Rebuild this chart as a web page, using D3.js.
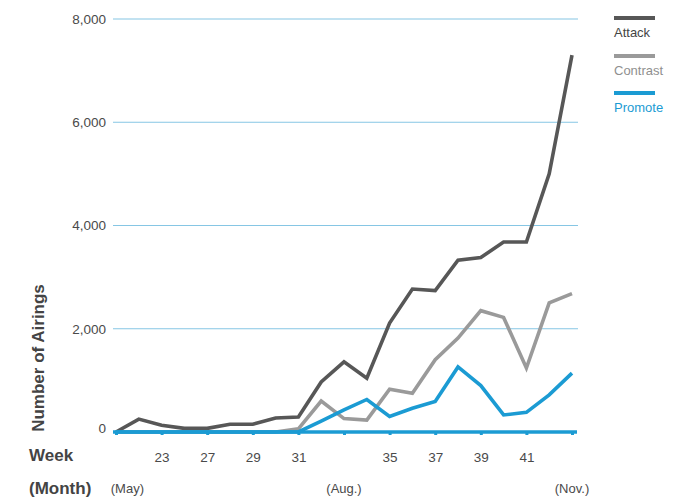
<!DOCTYPE html>
<html>
<head>
<meta charset="utf-8">
<script src="https://cdn.jsdelivr.net/npm/d3@7"></script>
<style>
  html, body { margin: 0; padding: 0; background: #fff; }
  svg { display: block; font-family: "Liberation Sans", Arial, sans-serif; }
</style>
</head>
<body>
<svg id="chart" width="697" height="497"></svg>
<script>
// ---- data ----
const weekIndex = d3.range(21);
const attack   = [0, 250, 130, 70, 70, 150, 150, 270, 290, 970, 1360, 1040, 2110, 2770, 2740, 3330, 3380, 3680, 3680, 5000, 7300];
const contrast = [0, 0, 0, 0, 0, 0, 0, 0, 60, 600, 260, 230, 830, 750, 1400, 1820, 2350, 2220, 1240, 2500, 2680];
const promote  = [0, 0, 0, 0, 0, 0, 0, 0, 0, 210, 430, 630, 300, 460, 590, 1260, 900, 330, 380, 720, 1140];
const tickIdx    = [0, 2, 4, 6, 8, 10, 12, 14, 16, 18, 20];
const tickLabels = ["", "23", "27", "29", "31", "", "35", "37", "39", "41", ""];
const monthLabels = ["(May)", "(Aug.)", "(Nov.)"];
const monthIdx    = [0.5, 10, 20];
const yTicks = [0, 2000, 4000, 6000, 8000];
const seriesNames = ["Attack", "Contrast", "Promote"];

// ---- layout ----
const svg = d3.select("#chart");
const colors = { Attack: "#575757", Contrast: "#9a9a9a", Promote: "#1b9bd3" };
const textColors = { Attack: "#444444", Contrast: "#8f8f8f", Promote: "#1b9bd3" };

const x = d3.scaleLinear().domain([0, 20]).range([116, 572]);
const y = d3.scaleLinear().domain([0, 8000]).range([432, 19]);

// gridlines
const grid = svg.append("g");
grid.selectAll("line").data(yTicks.filter(d => d > 0)).join("line")
  .attr("x1", 113).attr("x2", 578)
  .attr("y1", d => y(d)).attr("y2", d => y(d))
  .attr("stroke", "#86c6e4").attr("stroke-width", 1.2);

// y axis labels
const yAxis = d3.axisLeft(y).tickValues(yTicks).tickFormat(d3.format(",")).tickSize(0).tickPadding(0);
const yg = svg.append("g").attr("transform", "translate(106,0)").call(yAxis);
yg.select(".domain").remove();
yg.selectAll("text").attr("font-size", 13.5).attr("fill", "#4a4a4a")
  .attr("font-family", "Liberation Sans, Arial, sans-serif")
  .attr("dy", "0.32em");
yg.selectAll(".tick").filter(d => d === 0).select("text").attr("dy", "0.05em");

// axis title
svg.append("text")
  .attr("transform", "translate(44,358) rotate(-90)")
  .attr("text-anchor", "middle")
  .attr("font-size", 17).attr("font-weight", "bold").attr("fill", "#444")
  .text("Number of Airings");

// lines
const lineGen = d3.line().x((d, i) => x(i)).y(d => y(d));
const seriesData = { Attack: attack, Contrast: contrast, Promote: promote };
["Contrast", "Attack", "Promote"].forEach(name => {
  svg.append("path")
    .datum(seriesData[name])
    .attr("d", lineGen)
    .attr("fill", "none")
    .attr("stroke", colors[name])
    .attr("stroke-width", 3.6)
    .attr("stroke-linejoin", "miter");
});

// x axis (blue baseline with ticks)
const xAxis = d3.axisBottom(x).tickValues(tickIdx).tickFormat((d, i) => tickLabels[i])
  .tickSizeInner(3).tickSizeOuter(0).tickPadding(17);
const xg = svg.append("g").attr("transform", `translate(0,${y(0)})`).call(xAxis);
xg.select(".domain").attr("d", `M113,0H577`).attr("stroke", colors.Promote).attr("stroke-width", 3.6);
xg.selectAll(".tick line").attr("stroke", colors.Promote).attr("stroke-width", 3);
xg.selectAll(".tick text").attr("font-size", 13.5).attr("fill", "#4a4a4a")
  .attr("font-family", "Liberation Sans, Arial, sans-serif");

// month labels
svg.append("g").selectAll("text").data(monthLabels).join("text")
  .attr("x", (d, i) => x(monthIdx[i]))
  .attr("y", 493)
  .attr("text-anchor", "middle")
  .attr("font-size", 13).attr("fill", "#4a4a4a")
  .text(d => d);

svg.append("text").attr("x", 29).attr("y", 461)
  .attr("font-size", 17).attr("font-weight", "bold").attr("fill", "#444").text("Week");
svg.append("text").attr("x", 29).attr("y", 494)
  .attr("font-size", 17).attr("font-weight", "bold").attr("fill", "#444").text("(Month)");

// legend
const legend = svg.append("g");
const legY = [18, 56, 93];
seriesNames.forEach((name, i) => {
  legend.append("line")
    .attr("x1", 614).attr("x2", 655)
    .attr("y1", legY[i]).attr("y2", legY[i])
    .attr("stroke", colors[name]).attr("stroke-width", 4);
  legend.append("text")
    .attr("x", 614).attr("y", legY[i] + 19)
    .attr("font-size", 13).attr("fill", textColors[name])
    .text(name);
});
</script>
</body>
</html>
